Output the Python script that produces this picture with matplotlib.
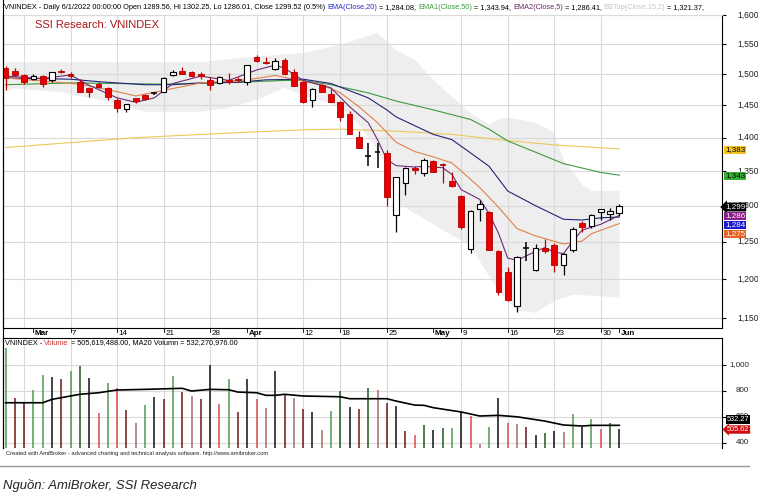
import numpy as np
import matplotlib.pyplot as plt
from matplotlib.transforms import blended_transform_factory
from matplotlib.ticker import FixedLocator, NullLocator

plt.rcParams['font.family'] = ['Liberation Sans', 'DejaVu Sans']

# ---------------- data: VNINDEX daily, 24 Feb - 1 Jun 2022 ----------------
dates = ['02-24', '02-25', '02-28', '03-01', '03-02', '03-03', '03-04',
         '03-07', '03-08', '03-09', '03-10', '03-11', '03-14', '03-15', '03-16', '03-17', '03-18',
         '03-21', '03-22', '03-23', '03-24', '03-25', '03-28', '03-29', '03-30', '03-31', '04-01',
         '04-04', '04-05', '04-06', '04-07', '04-08', '04-12', '04-13', '04-14', '04-15',
         '04-18', '04-19', '04-20', '04-21', '04-22', '04-25', '04-26', '04-27', '04-28', '04-29',
         '05-04', '05-05', '05-06', '05-09', '05-10', '05-11', '05-12', '05-13',
         '05-16', '05-17', '05-18', '05-19', '05-20', '05-23', '05-24', '05-25', '05-26', '05-27',
         '05-30', '05-31', '06-01']

opens = [1510, 1505, 1499, 1492, 1497, 1491, 1506, 1500, 1487, 1477, 1485, 1477, 1459, 1445, 1461, 1466,
         1469, 1472, 1499, 1505, 1503, 1500, 1491, 1486, 1491, 1492, 1488, 1528, 1521, 1508, 1524, 1503,
         1487, 1459, 1482, 1468, 1455, 1436, 1401, 1372, 1379, 1377, 1287, 1332, 1355, 1347, 1365, 1361,
         1335, 1314, 1240, 1296, 1291, 1237, 1209, 1166, 1241, 1212, 1242, 1246, 1219, 1239, 1276, 1272,
         1291, 1288, 1289.56]
highs = [1513, 1510, 1501, 1501, 1499, 1504, 1509, 1503, 1492, 1479, 1488, 1479, 1461, 1453, 1462, 1468,
         1472, 1495, 1507, 1512, 1505, 1503, 1495, 1497, 1502, 1495, 1516, 1531, 1528, 1526, 1527, 1509,
         1489, 1477, 1485, 1476, 1457, 1441, 1410, 1392, 1392, 1382, 1342, 1356, 1357, 1370, 1366, 1362,
         1349, 1316, 1294, 1308, 1293, 1239, 1216, 1231, 1250, 1247, 1254, 1248, 1235, 1270, 1278, 1289,
         1296, 1297, 1302.25]
lows = [1475, 1497, 1485, 1490, 1479, 1487, 1502, 1494, 1471, 1463, 1477, 1459, 1440, 1439, 1454, 1458,
        1466, 1471, 1498, 1500, 1495, 1493, 1474, 1485, 1484, 1487, 1483, 1520, 1517, 1507, 1499, 1481,
        1454, 1448, 1471, 1455, 1425, 1405, 1384, 1357, 1354, 1300, 1263, 1315, 1346, 1343, 1348, 1332,
        1327, 1267, 1235, 1279, 1239, 1180, 1172, 1158, 1224, 1211, 1235, 1209, 1205, 1236, 1263, 1269,
        1280, 1280, 1286.01]
closes = [1494, 1499, 1488, 1497, 1485, 1503, 1504, 1498, 1472, 1472, 1479, 1464, 1446, 1452, 1457, 1460,
          1469, 1494, 1503, 1501, 1497, 1497, 1482, 1496, 1488, 1490, 1515, 1522, 1518, 1522, 1501, 1481,
          1455, 1476, 1471, 1455, 1432, 1406, 1385, 1372, 1379, 1312, 1342, 1354, 1351, 1367, 1349, 1359,
          1328, 1270, 1293, 1302, 1239, 1183, 1173, 1229, 1241, 1242, 1238, 1219, 1234, 1268, 1270, 1287,
          1295, 1293, 1299.52]

# indicator lines, read at sample bars (bar index, value)
ema200_idx = [0, 14, 24, 32, 36, 42, 48, 53, 59, 66]
ema200_val = [1385, 1400, 1407, 1412, 1413, 1410, 1405, 1397, 1389, 1383]
ema50_idx = [0, 7, 17, 25, 30, 32, 35, 39, 42, 46, 50, 52, 54, 57, 60, 64, 66]
ema50_val = [1483, 1486, 1484, 1487, 1490, 1490, 1483, 1470, 1457, 1443, 1428, 1413, 1395, 1378, 1361,
             1348, 1343.94]
ema20_idx = [0, 7, 10, 15, 18, 21, 25, 28, 32, 35, 39, 41, 42, 46, 48, 50, 52, 54, 57, 60, 62, 64, 66]
ema20_val = [1494, 1492, 1488, 1483, 1483, 1486, 1487, 1491, 1492, 1485, 1462, 1443, 1432, 1405, 1397,
             1377, 1357, 1321, 1300, 1281, 1280, 1283, 1284.08]
ema10_idx = [0, 8, 12, 14, 17, 21, 26, 29, 32, 34, 36, 38, 40, 42, 44, 46, 48, 49, 51, 53, 54, 55, 57,
             60, 62, 63, 66]
ema10_val = [1494, 1484, 1472, 1465, 1474, 1486, 1491, 1498, 1489, 1483, 1470, 1448, 1423, 1393, 1379,
             1371, 1362, 1350, 1326, 1298, 1283, 1268, 1258, 1247, 1251, 1261, 1275]
ema5_idx = [0, 4, 7, 9, 12, 14, 16, 18, 21, 24, 27, 29, 30, 32, 35, 37, 39, 40, 41, 42, 44, 45, 47, 48,
            49, 51, 52, 53, 54, 55, 57, 58, 59, 60, 61, 62, 64, 66]
ema5_val = [1497, 1493, 1499, 1482, 1462, 1455, 1462, 1485, 1497, 1490, 1507, 1515, 1510, 1490, 1478,
            1448, 1423, 1397, 1367, 1358, 1356, 1357, 1355, 1345, 1323, 1309, 1289, 1262, 1228, 1225,
            1237, 1242, 1236, 1234, 1251, 1266, 1274, 1286.41]
bbtop_idx = [0, 10, 21, 26, 32, 36, 40, 42, 44, 46, 48, 50, 52, 53, 54, 57, 59, 60, 62, 63, 66]
bbtop_val = [1520, 1520, 1520, 1528, 1535, 1549, 1569, 1540, 1524, 1491, 1464, 1438, 1420, 1428, 1431,
             1423, 1408, 1367, 1330, 1321, 1321.37]
bbbot_idx = [0, 6, 10, 15, 21, 24, 27, 30, 32, 36, 38, 40, 41, 42, 46, 50, 53, 55, 57, 59, 61, 64, 66]
bbbot_val = [1478, 1471, 1459, 1440, 1440, 1446, 1459, 1478, 1467, 1448, 1420, 1382, 1355, 1305, 1274,
             1244, 1185, 1160, 1157, 1172, 1180, 1178, 1176]

# volume, millions of shares
volume = [1129, 745, 706, 804, 919, 906, 886, 950, 988, 898, 629, 855, 821, 650, 548, 688, 752, 732, 911,
          791, 758, 732, 994, 694, 886, 635, 886, 737, 668, 950, 763, 745, 660, 635, 496, 642, 796, 673,
          655, 817, 804, 701, 681, 488, 458, 535, 496, 514, 514, 635, 604, 386, 521, 745, 552, 545, 519,
          460, 471, 488, 481, 617, 519, 583, 501, 552, 505.619488]
vol_kind = list('gRRggkRgGkrgrRbgkRgRbRkrgRkrbkRbRkbgGkRGbRkRrGkGgkrbgkrbRkGkbgkgrGk')
vma_idx = [0, 4, 5, 8, 10, 12, 15, 19, 20, 22, 24, 25, 27, 28, 29, 30, 32, 36, 37, 41, 42, 44, 45, 46,
           49, 51, 53, 55, 58, 60, 62, 63, 66]
vma_val = [706, 706, 732, 771, 783, 804, 809, 817, 796, 809, 806, 788, 783, 763, 763, 771, 758, 752, 737,
           737, 719, 688, 686, 668, 635, 604, 609, 598, 565, 535, 527, 532, 532.270976]

price_ticks = [1150, 1200, 1250, 1300, 1350, 1400, 1450, 1500, 1550, 1600]
vol_ticks = [400, 600, 800, 1000]
date_labels = [('03-01', 'Mar'), ('03-07', '7'), ('03-14', '14'), ('03-21', '21'), ('03-28', '28'),
               ('04-01', 'Apr'), ('04-12', '12'), ('04-18', '18'), ('04-25', '25'), ('05-04', 'May'),
               ('05-09', '9'), ('05-16', '16'), ('05-23', '23'), ('05-30', '30'), ('06-01', 'Jun')]
grid_dates = ['02-28', '03-07', '03-14', '03-21', '03-28', '04-04', '04-12', '04-18', '04-25',
              '05-09', '05-16', '05-23', '05-30']

# ---------------- layout ----------------
W, H = 758, 498
fig = plt.figure(figsize=(W / 100, H / 100), dpi=100)


def fx(px):
    return px / W


def fy(py):
    return 1 - py / H


X0, X1 = 3, 722
ax = fig.add_axes([fx(X0), fy(328), (X1 - X0) / W, (328 - 15) / H])
axv = fig.add_axes([fx(X0), fy(448), (X1 - X0) / W, (448 - 338) / H])

n = len(closes)
idx = np.arange(n)
xlim = ((X0 - 5.5) / 9.3, (X1 - 5.5) / 9.3)
grid_idx = [dates.index(d) for d in grid_dates]
GRID = '#dadada'

# ---------------- price panel ----------------
ax.set_yscale('log')
ax.set_xlim(*xlim)
ax.set_ylim(1138, 1600)

band_x = np.concatenate([bbtop_idx, bbbot_idx[::-1]])
band_y = np.concatenate([bbtop_val, bbbot_val[::-1]])
ax.fill(band_x, band_y, color='#eeeeee', lw=0, zorder=0)

for p in price_ticks:
    ax.axhline(p, color=GRID, lw=0.8, zorder=1)
for g in grid_idx:
    ax.axvline(g, color=GRID, lw=0.8, zorder=1)

ax.plot(ema200_idx, ema200_val, color='#ecc85a', lw=0.8, zorder=2)
ax.plot(ema50_idx, ema50_val, color='#3f9a3f', lw=0.8, zorder=2)
ax.plot(ema20_idx, ema20_val, color='#25257a', lw=0.8, zorder=2)
ax.plot(ema10_idx, ema10_val, color='#e0804a', lw=0.8, zorder=2)
ax.plot(ema5_idx, ema5_val, color='#6e2a78', lw=0.8, zorder=2)

o = np.array(opens, float)
c = np.array(closes, float)
hi = np.array(highs, float)
lo = np.array(lows, float)
up = c > o + 0.5
dn = c < o - 0.5
cross = ~(up | dn)
bw = 0.62

ax.vlines(idx[up], lo[up], hi[up], color='black', lw=0.9, zorder=3)
ax.vlines(idx[dn], lo[dn], hi[dn], color='#c00000', lw=0.9, zorder=3)
ax.vlines(idx[cross], lo[cross], hi[cross], color='black', lw=1.1, zorder=3)
ax.hlines(c[cross], idx[cross] - bw / 2, idx[cross] + bw / 2, color='black', lw=1.1, zorder=3)
ax.bar(idx[up], c[up] - o[up], bottom=o[up], width=bw, facecolor='white', edgecolor='black',
       lw=0.8, zorder=4)
ax.bar(idx[dn], o[dn] - c[dn], bottom=c[dn], width=bw, facecolor='#e80000', edgecolor='#b00000',
       lw=0.6, zorder=4)

ax.yaxis.set_major_locator(FixedLocator(price_ticks))
ax.yaxis.set_minor_locator(NullLocator())
ax.set_xticks([])
ax.tick_params(axis='y', which='both', left=False, right=True, direction='out', length=3,
               width=0.8, labelleft=False, labelright=False)
for s in ['left', 'right', 'bottom']:
    ax.spines[s].set_linewidth(0.8)
ax.spines['top'].set_color(GRID)

tr = blended_transform_factory(fig.transFigure, ax.transData)
for p in price_ticks:
    ax.text(fx(737), p, f"{p:,}", transform=tr, fontsize=6.2, va='center', ha='left',
            clip_on=False, color='#222222')

# last-value tags on the right axis
tags = [(150, int(ema200_val[-1]), '#f5c21b', 'black', 'square'),
        (176, int(ema50_val[-1]), '#35b235', 'black', 'square'),
        (207, int(closes[-1]), 'black', 'white', 'larrow'),
        (216, int(ema5_val[-1]), '#8a1b8a', 'white', 'square'),
        (225, int(ema20_val[-1]), '#1a1ad0', 'white', 'square'),
        (234, int(ema10_val[-1]), '#e6601e', 'white', 'square')]
for ypx, val, bg, fg, style in tags:
    fig.text(fx(725), fy(ypx), f"{val:,}", fontsize=5.8, color=fg, va='center', ha='left',
             zorder=10, bbox=dict(boxstyle=f'{style},pad=0.12', fc=bg, ec='none'))

# ---------------- volume panel ----------------
axv.set_xlim(*xlim)
axv.set_ylim(358, 1204)
for v in vol_ticks:
    axv.axhline(v, color=GRID, lw=0.8, zorder=1)
for g in grid_idx:
    axv.axvline(g, color=GRID, lw=0.8, zorder=1)

vcol = {'g': '#4f9a4f', 'G': '#1f5a1f', 'r': '#d84a4a', 'R': '#6e1616', 'b': '#a86a6a', 'k': '#111111'}
axv.vlines(idx, 358, volume, colors=[vcol[k] for k in vol_kind], lw=1.1, zorder=2)
axv.plot(vma_idx, vma_val, color='black', lw=1.2, zorder=3)

axv.yaxis.set_major_locator(FixedLocator(vol_ticks))
axv.set_xticks([])
axv.tick_params(axis='y', left=False, right=True, direction='out', length=3, width=0.8,
                labelleft=False, labelright=False)
axv.spines['bottom'].set_visible(False)
for s in ['left', 'right', 'top']:
    axv.spines[s].set_linewidth(0.8)
trv = blended_transform_factory(fig.transFigure, axv.transData)
for v in vol_ticks:
    axv.text(fx(749), v, f"{v:,}", transform=trv, fontsize=5.8, va='center', ha='right',
             clip_on=False, color='#222222')
fig.text(fx(727), fy(419.5), f"{vma_val[-1]:.2f}", fontsize=5.3, color='white', va='center',
         ha='left', zorder=10, bbox=dict(boxstyle='square,pad=0.1', fc='black', ec='none'))
fig.text(fx(727), fy(429.5), f"{volume[-1]:.2f}", fontsize=5.3, color='white', va='center',
         ha='left', zorder=10, bbox=dict(boxstyle='larrow,pad=0.1', fc='#cc1010', ec='none'))

# ---------------- date row ----------------
for d, lab in date_labels:
    xp = 5.5 + 9.3 * dates.index(d)
    fig.add_artist(plt.Line2D([fx(xp), fx(xp)], [fy(329), fy(332)], color='black', lw=0.6))
    fig.text(fx(xp + 1.5), fy(333.5), lab, fontsize=5.8, va='center', ha='left',
             fontweight='bold' if lab.isalpha() else 'normal')

# frame pieces outside the axes
fig.add_artist(plt.Line2D([fx(X0), fx(X0)], [fy(0), fy(448)], color='black', lw=0.8))


# ---------------- texts ----------------
def runs_text(x_px, y_px, runs, size, fit=None, **kw):
    r = fig.canvas.get_renderer()

    def width(s, sz):
        t1 = fig.text(0, 0, s + '|', fontsize=sz, **kw)
        t2 = fig.text(0, 0, '|', fontsize=sz, **kw)
        w = t1.get_window_extent(r).width - t2.get_window_extent(r).width
        t1.remove()
        t2.remove()
        return w

    if fit:
        size = size * fit / width(''.join(s for s, _ in runs), size)
    pre = ''
    for s, col in runs:
        off = width(pre, size)
        fig.text(fx(x_px + off), fy(y_px), s, color=col, fontsize=size, va='center', ha='left', **kw)
        pre += s


pct = (closes[-1] / closes[-2] - 1) * 100
header = [(f"VNINDEX - Daily 6/1/2022 00:00:00 Open {opens[-1]:.2f}, Hi {highs[-1]:.2f}, "
           f"Lo {lows[-1]:.2f}, Close {closes[-1]:.2f} ({pct:.1f}%) ", 'black'),
          ("EMA(Close,20)", '#2a2ad0'), (f" = {ema20_val[-1]:,.2f}, ", 'black'),
          ("EMA1(Close,50)", '#3c9a3c'), (f" = {ema50_val[-1]:,.2f}, ", 'black'),
          ("EMA2(Close,5)", '#6a2a6a'), (f" = {ema5_val[-1]:,.2f}, ", 'black'),
          ("BBTop(Close,15,2)", '#c4c4c4'), (f" = {bbtop_val[-1]:,.2f},", 'black')]
runs_text(4, 7.5, header, 6, fit=709)

fig.text(fx(35), fy(25), "SSI Research: VNINDEX", fontsize=8, color='#a81818', va='center', ha='left')

vol_header = [("VNINDEX - ", 'black'), ("Volume", '#d03030'),
              (f" = {round(volume[-1] * 1e6):,}.00, MA20 Volumn = {round(vma_val[-1] * 1e6):,}.00",
               'black')]
runs_text(5, 343, vol_header, 6, fit=234)

runs_text(6, 453.5, [("Created with AmiBroker - advanced charting and technical analysis software. "
                      "http://www.amibroker.com", '#222222')], 4, fit=262)

fig.add_artist(plt.Line2D([fx(0), fx(749)], [fy(466), fy(466)], color='#9a9a9a', lw=1.0))
runs_text(3, 485, [("Nguồn: AmiBroker, SSI Research", '#222222')], 11, fit=195,
          style='italic', family=['Liberation Sans Narrow', 'Liberation Sans', 'DejaVu Sans'])

fig.savefig('out.png', dpi=100)
